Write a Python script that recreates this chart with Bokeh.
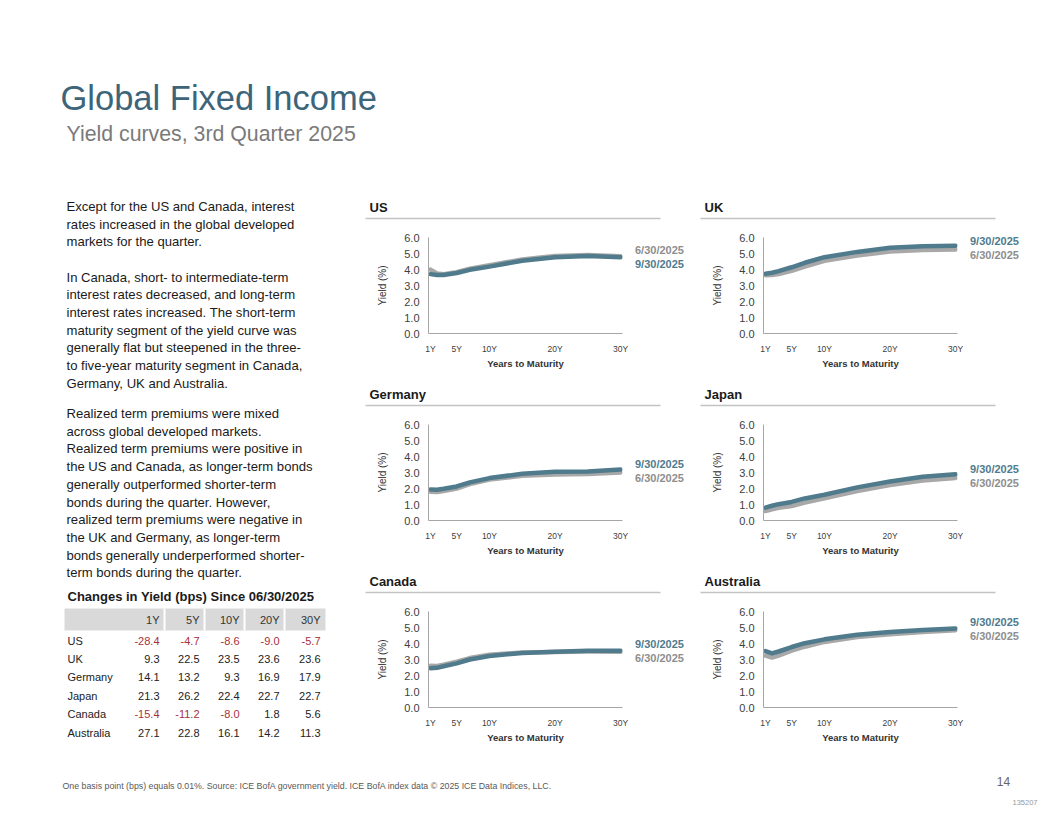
from bokeh.plotting import figure
from bokeh.models import Range1d, FixedTicker, NumeralTickFormatter
from bokeh.layouts import column, row
from bokeh.embed import file_html
from bokeh.resources import INLINE
from bokeh.core.properties import value

# ---------------- data ----------------
maturities = [1, 2, 3, 5, 7, 10, 15, 20, 25, 30]

us_jun = [3.99, 3.75, 3.70, 3.83, 4.05, 4.27, 4.63, 4.85, 4.90, 4.83]
us_sep = [3.71, 3.66, 3.66, 3.78, 3.98, 4.18, 4.55, 4.76, 4.84, 4.77]
uk_jun = [3.64, 3.66, 3.72, 3.92, 4.18, 4.54, 4.87, 5.12, 5.22, 5.25]
uk_sep = [3.73, 3.80, 3.90, 4.14, 4.42, 4.77, 5.10, 5.36, 5.46, 5.49]
de_jun = [1.80, 1.78, 1.84, 2.00, 2.27, 2.56, 2.80, 2.88, 2.90, 3.00]
de_sep = [1.94, 1.92, 1.98, 2.13, 2.38, 2.65, 2.92, 3.05, 3.06, 3.18]
jp_jun = [0.59, 0.70, 0.79, 0.90, 1.12, 1.39, 1.84, 2.21, 2.50, 2.66]
jp_sep = [0.80, 0.92, 1.02, 1.16, 1.38, 1.61, 2.07, 2.44, 2.73, 2.89]
ca_jun = [2.61, 2.60, 2.68, 2.87, 3.09, 3.30, 3.44, 3.47, 3.50, 3.49]
ca_sep = [2.46, 2.48, 2.58, 2.76, 3.00, 3.22, 3.41, 3.49, 3.54, 3.55]
au_jun = [3.25, 3.12, 3.24, 3.55, 3.80, 4.10, 4.40, 4.58, 4.72, 4.83]
au_sep = [3.52, 3.38, 3.50, 3.78, 4.02, 4.26, 4.55, 4.72, 4.84, 4.94]

series_names = ["6/30/2025", "9/30/2025"]
tick_years = [1, 5, 10, 20, 30]
tick_labels = ["1Y", "5Y", "10Y", "20Y", "30Y"]
y_ticks = [0, 1, 2, 3, 4, 5, 6]

table_title = "Changes in Yield (bps) Since 06/30/2025"
table_cols = ["1Y", "5Y", "10Y", "20Y", "30Y"]
table_rows = ["US", "UK", "Germany", "Japan", "Canada", "Australia"]
table_vals = [
    [-28.4, -4.7, -8.6, -9.0, -5.7],
    [9.3, 22.5, 23.5, 23.6, 23.6],
    [14.1, 13.2, 9.3, 16.9, 17.9],
    [21.3, 26.2, 22.4, 22.7, 22.7],
    [-15.4, -11.2, -8.0, 1.8, 5.6],
    [27.1, 22.8, 16.1, 14.2, 11.3],
]

title_text = "Global Fixed Income"
subtitle_text = "Yield curves, 3rd Quarter 2025"
paragraphs = [
    ["Except for the US and Canada, interest",
     "rates increased in the global developed",
     "markets for the quarter."],
    ["In Canada, short- to intermediate-term",
     "interest rates decreased, and long-term",
     "interest rates increased. The short-term",
     "maturity segment of the yield curve was",
     "generally flat but steepened in the three-",
     "to five-year maturity segment in Canada,",
     "Germany, UK and Australia."],
    ["Realized term premiums were mixed",
     "across global developed markets.",
     "Realized term premiums were positive in",
     "the US and Canada, as longer-term bonds",
     "generally outperformed shorter-term",
     "bonds during the quarter. However,",
     "realized term premiums were negative in",
     "the UK and Germany, as longer-term",
     "bonds generally underperformed shorter-",
     "term bonds during the quarter."],
]
footnote = ("One basis point (bps) equals 0.01%. Source: ICE BofA government yield. "
            "ICE BofA index data \u00a9 2025 ICE Data Indices, LLC.")
page_no = "14"
doc_code = "135207"

# ---------------- style ----------------
FONT = "Liberation Sans"
TEAL = "#4f7b8d"
GREY = "#a8a8a8"
GREY_LBL = "#8e8e8e"
TITLE_C = "#3d6579"
RED = "#a6303c"


def canvas(w, h, yr=None):
    p = figure(width=w, height=h, x_range=Range1d(0, w),
               y_range=yr if yr is not None else Range1d(h, 0),
               output_backend="svg", toolbar_location=None, min_border=0,
               x_axis_location=None, y_axis_location=None)
    p.grid.visible = False
    p.outline_line_color = None
    return p


def txt(p, xs, ys, ss, size, color, bold=False, align="left", baseline="middle"):
    p.text(x=xs, y=ys, text=ss, text_font=value(FONT), text_font_size=f"{size}px",
           text_color=color, text_font_style="bold" if bold else "normal",
           text_align=align, text_baseline=baseline)


# header (page y 0..192)
header = canvas(1040, 192)
txt(header, [60], [97], [title_text], 34.5, TITLE_C)
txt(header, [66], [133], [subtitle_text], 21.3, "#7a7a7a")

# left column (page y 192..753)
TOP = 192
left = canvas(355, 561)
starts = [206, 276.5, 413]
for para, y0 in zip(paragraphs, starts):
    txt(left, [66] * len(para), [y0 - TOP + 17.7 * i for i in range(len(para))], para, 13.1, "#1a1a1a")

txt(left, [67], [596 - TOP], [table_title], 13, "#1a1a1a", bold=True)
left.quad(left=[64], right=[325], top=[608 - TOP], bottom=[630 - TOP], fill_color="#d9d9d9", line_color=None)
col_right = [159, 199, 239, 279, 320]
left.quad(left=[c + 4 for c in col_right[:-1]], right=[c + 6 for c in col_right[:-1]],
          top=[608 - TOP] * 4, bottom=[630 - TOP] * 4, fill_color="white", line_color=None)
txt(left, col_right, [619 - TOP] * 5, table_cols, 11, "#333333", align="right")
row_y = [640 - TOP + 18.4 * i for i in range(len(table_rows))]
txt(left, [67] * len(table_rows), row_y, table_rows, 11, "#222222")
for vals, yy in zip(table_vals, row_y):
    for v, xx in zip(vals, col_right):
        txt(left, [xx], [yy], [f"{v:.1f}"], 11, RED if v < 0 else "#222222", align="right")

# panels
PW = 335            # panel width
HH = 36             # panel header height
CW, CH = 277, 151   # chart figure size
FL, FR, FT, FB = 73, 10, 9, 46
XR = (0.7, 30.3)
YR = (0.0, 6.0)
UNIT = (CH - FT - FB) / (YR[1] - YR[0])  # pixels per percentage point


def panel(name, jun, sep):
    head = canvas(PW, HH)
    txt(head, [14], [15], [name], 13, "#1a1a1a", bold=True)
    head.quad(left=[10], right=[305], top=[25.3], bottom=[26.8], fill_color="#c3c3c3", line_color=None)

    p = figure(width=CW, height=CH, x_range=Range1d(*XR), y_range=Range1d(*YR),
               output_backend="svg", toolbar_location=None,
               min_border_left=FL, min_border_right=FR, min_border_top=FT, min_border_bottom=FB)
    p.outline_line_color = None
    p.grid.visible = False
    p.line(maturities, jun, line_color=GREY, line_width=4.5, line_cap="round", line_join="round")
    p.line(maturities, sep, line_color=TEAL, line_width=4.5, line_cap="round", line_join="round")

    xa = p.xaxis[0]
    xa.ticker = FixedTicker(ticks=tick_years)
    xa.major_label_overrides = dict(zip(tick_years, tick_labels))
    xa.axis_label = "Years to Maturity"
    xa.axis_label_text_font_style = "bold"
    xa.major_label_standoff = 10
    xa.axis_label_standoff = 1
    xa.major_label_text_font_size = "8.5px"
    xa.axis_label_text_font_size = "9.5px"
    ya = p.yaxis[0]
    ya.ticker = FixedTicker(ticks=y_ticks)
    ya.formatter = NumeralTickFormatter(format="0.0")
    ya.axis_label = "Yield (%)"
    ya.axis_label_text_font_style = "normal"
    ya.major_label_standoff = 9
    ya.axis_label_standoff = 13
    ya.major_label_text_font_size = "11px"
    ya.axis_label_text_font_size = "10px"
    for a in (xa, ya):
        a.axis_line_color = "#a6a6a6"
        a.axis_line_width = 1
        a.major_tick_line_color = None
        a.minor_tick_line_color = None
        a.major_tick_in = 0
        a.major_tick_out = 0
        a.minor_tick_in = 0
        a.minor_tick_out = 0
        a.major_label_text_font = FONT
        a.major_label_text_color = "#404040"
        a.axis_label_text_font = FONT
        a.axis_label_text_color = "#333333"

    # end-of-curve labels: a side canvas sharing the chart's vertical data scale
    lab = canvas(PW - CW, CH, yr=Range1d(YR[0] - FB / UNIT, YR[1] + FT / UNIT))
    mid = (jun[-1] + sep[-1]) / 2
    sep_top = sep[-1] >= jun[-1]
    for nm, col, is_sep in ((series_names[0], GREY_LBL, False), (series_names[1], TEAL, True)):
        up = (is_sep == sep_top)
        txt(lab, [2.5], [mid + (0.44 if up else -0.44)], [nm], 11, col, bold=True)
    # nested layouts keep Bokeh from aligning the canvases' frames with the chart frame
    return column(column(head), row(p, column(lab)))


grid = column(
    row(panel("US", us_jun, us_sep), panel("UK", uk_jun, uk_sep)),
    row(panel("Germany", de_jun, de_sep), panel("Japan", jp_jun, jp_sep)),
    row(panel("Canada", ca_jun, ca_sep), panel("Australia", au_jun, au_sep)),
)

# footer (page y 753..808)
FTOP = 753
footer = canvas(1040, 55)
txt(footer, [62], [785 - FTOP], [footnote], 8.8, "#595959")
txt(footer, [1003], [781 - FTOP], [page_no], 12, "#666666", align="center")
txt(footer, [1037], [802 - FTOP], [doc_code], 7.5, "#999999", align="right")

layout = column(header, row(left, grid), footer)

open("out.html", "w").write(file_html(layout, INLINE))
